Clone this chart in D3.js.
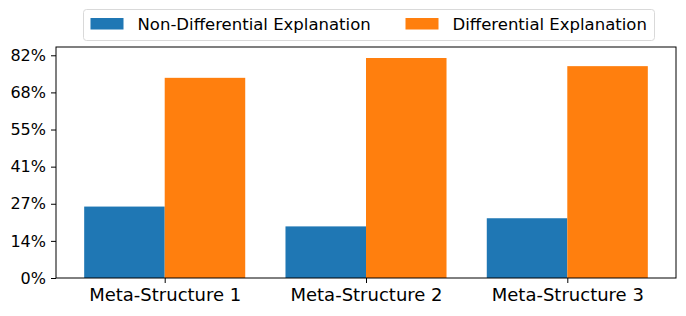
<!DOCTYPE html>
<html>
<head>
<meta charset="utf-8">
<script src="https://cdn.jsdelivr.net/npm/d3@7"></script>
<style>
  body { margin: 0; background: #fff; }
  svg { display: block; font-family: "DejaVu Sans", sans-serif; }
</style>
</head>
<body>
<div class="container"></div>
<script>
// data
var categories = ["Meta-Structure 1", "Meta-Structure 2", "Meta-Structure 3"];
var series_names = ["Non-Differential Explanation", "Differential Explanation"];
var non_diff = [0.263, 0.190, 0.220];
var diff = [0.737, 0.810, 0.780];
var y_ticks = [0, 0.82 / 6, 0.82 * 2 / 6, 0.82 * 3 / 6, 0.82 * 4 / 6, 0.82 * 5 / 6, 0.82];
var colors = ["#1f77b4", "#ff7f0e"];

var W = 686, H = 316;
var margin = {top: 47, right: 10, bottom: 38, left: 56},
    width = W - margin.left - margin.right,
    height = H - margin.top - margin.bottom;

var svg = d3.select("div.container").append("svg")
    .attr("width", W)
    .attr("height", H);

var g = svg.append("g")
    .attr("transform", "translate(" + margin.left + "," + margin.top + ")");

// scales, matplotlib style: bars of width 0.4 either side of each category
var bar_w = 0.4;
var x_scale = d3.scaleLinear()
    .domain([-bar_w - 0.14, categories.length - 1 + bar_w + 0.14])
    .range([0, width]);
var y_max = d3.max(diff.concat(non_diff)) * 1.05;
var y_scale = d3.scaleLinear().domain([0, y_max]).range([height, 0]);

var series = [non_diff, diff];
series.forEach(function (vals, s) {
  g.selectAll(".bar" + s)
    .data(vals)
    .enter().append("rect")
      .attr("x", function (d, i) { return x_scale(i - bar_w + s * bar_w); })
      .attr("width", function () { return x_scale(bar_w) - x_scale(0); })
      .attr("y", function (d) { return y_scale(d); })
      .attr("height", function (d) { return y_scale(0) - y_scale(d); })
      .attr("fill", colors[s]);
});

// axes
var y_axis = d3.axisLeft(y_scale)
    .tickValues(y_ticks)
    .tickFormat(function (d) { return Math.round(d * 100) + "%"; })
    .tickSize(5).tickPadding(5);
var yg = g.append("g").call(y_axis);
yg.select(".domain").remove();
yg.selectAll("text").attr("font-size", 16).attr("fill", "#000").attr("font-family", "DejaVu Sans");
yg.selectAll("line").attr("stroke", "#000");

var x_axis = d3.axisBottom(x_scale)
    .tickValues(d3.range(categories.length))
    .tickFormat(function (d) { return categories[d]; })
    .tickSize(5).tickPadding(5.5);
var xg = g.append("g")
    .attr("transform", "translate(0," + height + ")")
    .call(x_axis);
xg.select(".domain").remove();
xg.selectAll("text").attr("font-size", 18).attr("fill", "#000").attr("font-family", "DejaVu Sans");
xg.selectAll("line").attr("stroke", "#000");

// frame
g.append("rect")
    .attr("x", 0).attr("y", 0)
    .attr("width", width).attr("height", height)
    .attr("fill", "none")
    .attr("stroke", "#000")
    .attr("stroke-width", 1);

// legend
var legend = svg.append("g").attr("transform", "translate(83.5,9.5)");
legend.append("rect")
    .attr("width", 571).attr("height", 31)
    .attr("rx", 3)
    .attr("fill", "#fff")
    .attr("stroke", "#d9d9d9");
var leg_x = [7, 322];
series_names.forEach(function (name, s) {
  legend.append("rect")
      .attr("x", leg_x[s]).attr("y", 8.5)
      .attr("width", 33).attr("height", 11.5)
      .attr("fill", colors[s]);
  legend.append("text")
      .attr("x", leg_x[s] + 47).attr("y", 20.5)
      .attr("font-size", 16.5)
      .attr("fill", "#000")
      .text(name);
});
</script>
</body>
</html>
